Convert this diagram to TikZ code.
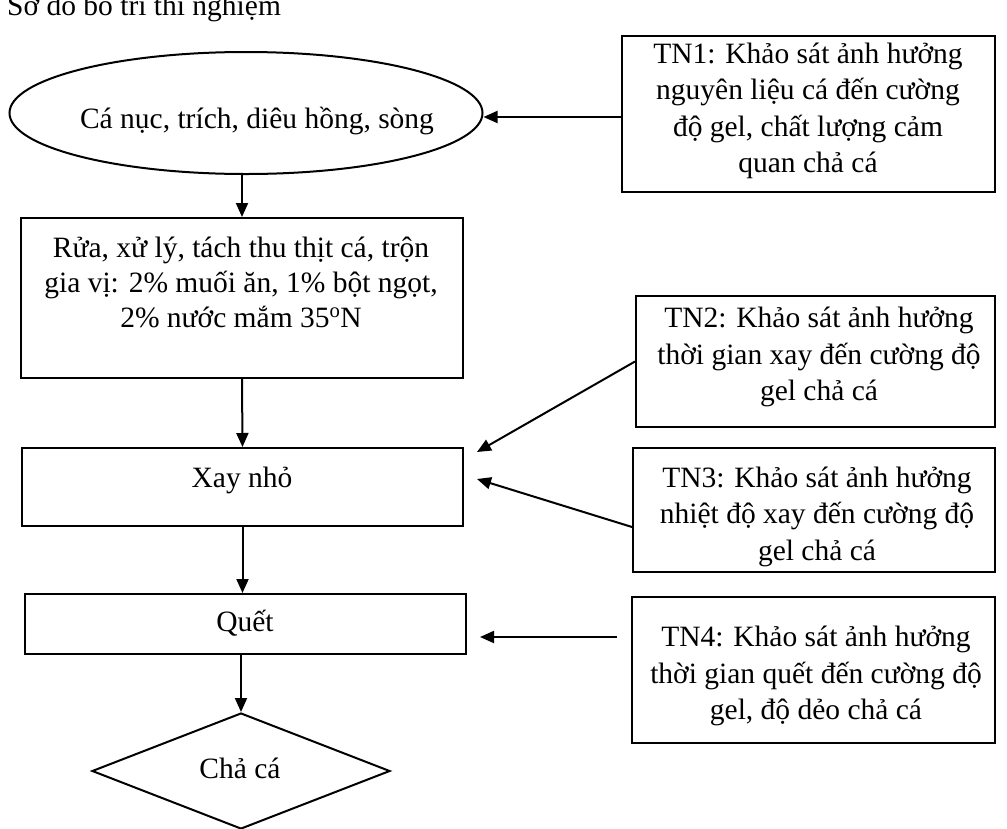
\documentclass[tikz,border=0pt]{standalone}
\usepackage{fontspec}
\setmainfont{Liberation Serif}
\usetikzlibrary{shapes.geometric,arrows.meta}
\tikzset{
  shp/.style={draw, line width=2pt, inner sep=0pt},
  boxst/.style={shp, rectangle},
  txt/.style={inner sep=0pt, align=center, font=\fontsize{29.5pt}{36.5pt}\selectfont},
  txtb/.style={inner sep=0pt, align=center, font=\fontsize{29.5pt}{35pt}\selectfont},
  arr/.style={line width=2pt, -{Triangle[length=14pt,width=12pt]}}
}
\begin{document}
\begin{tikzpicture}[x=1pt,y=-1pt]
\useasboundingbox (0,0) rectangle (1007,828);
% title
\node[txt, anchor=base west] (title) at (7,15) {Sơ đồ bố trí thí nghiệm};
% main column
\node[shp, ellipse, minimum width=473pt, minimum height=122pt] (e) at (246,113) {};
\node[txt] (et) at (257,121) {\strut Cá nục, trích, diêu hồng, sòng};
\node[boxst, minimum width=442pt, minimum height=160pt] (b2) at (242,298) {};
\node[txtb] (b2t) at (241,285) {\strut Rửa, xử lý, tách thu thịt cá, trộn\\\strut gia vị: 2\% muối ăn, 1\% bột ngọt,\\\strut 2\% nước mắm 35\textsuperscript{o}N};
\node[boxst, minimum width=441pt, minimum height=78pt] (xay) at (242.5,487) {};
\node[txt] (xayt) at (242,480) {\strut Xay nhỏ};
\node[boxst, minimum width=441pt, minimum height=60pt] (quet) at (245.5,624) {};
\node[txt] (quett) at (245,624) {\strut Quết};
\node[shp, diamond, minimum width=298pt, minimum height=116pt] (d) at (241,771) {};
\node[txt] (dt) at (240,771) {\strut Chả cá};
% experiment boxes
\node[boxst, minimum width=373pt, minimum height=156pt] (tn1) at (808.5,114) {};
\node[txt] (tn1t) at (808,110.5) {\strut TN1: Khảo sát ảnh hưởng\\\strut nguyên liệu cá đến cường\\\strut độ gel, chất lượng cảm\\\strut quan chả cá};
\node[boxst, minimum width=359pt, minimum height=131pt] (tn2) at (815.5,361.5) {};
\node[txt] (tn2t) at (819,357) {\strut TN2: Khảo sát ảnh hưởng\\\strut thời gian xay đến cường độ\\\strut gel chả cá};
\node[boxst, minimum width=362pt, minimum height=124pt] (tn3) at (814,510) {};
\node[txt] (tn3t) at (817,516.5) {\strut TN3: Khảo sát ảnh hưởng\\\strut nhiệt độ xay đến cường độ\\\strut gel chả cá};
\node[boxst, minimum width=363pt, minimum height=146pt] (tn4) at (813.5,670) {};
\node[txt] (tn4t) at (816,676) {\strut TN4: Khảo sát ảnh hưởng\\\strut thời gian quết đến cường độ\\\strut gel, độ dẻo chả cá};
% free ends
\coordinate (a2) at (477,452);
\coordinate (a3) at (477,479);
\coordinate (s4) at (617,637);
\coordinate (a4) at (480,637);
% connectors
\draw[arr] (tn1.west |- 0,117) -- (e.east |- 0,117);
\draw[arr] (e.south -| b2.north) -- (b2.north);
\draw[arr] (b2.south) -- (xay.north);
\draw[arr] (xay.south) -- (xay.south |- quet.north);
\draw[arr] (quet.south -| d.north) -- (d.north);
\draw[arr] (tn2.west) -- (a2);
\draw[arr] ([yshift=-17pt]tn3.west) -- (a3);
\draw[arr] (s4) -- (a4);
\end{tikzpicture}
\end{document}
